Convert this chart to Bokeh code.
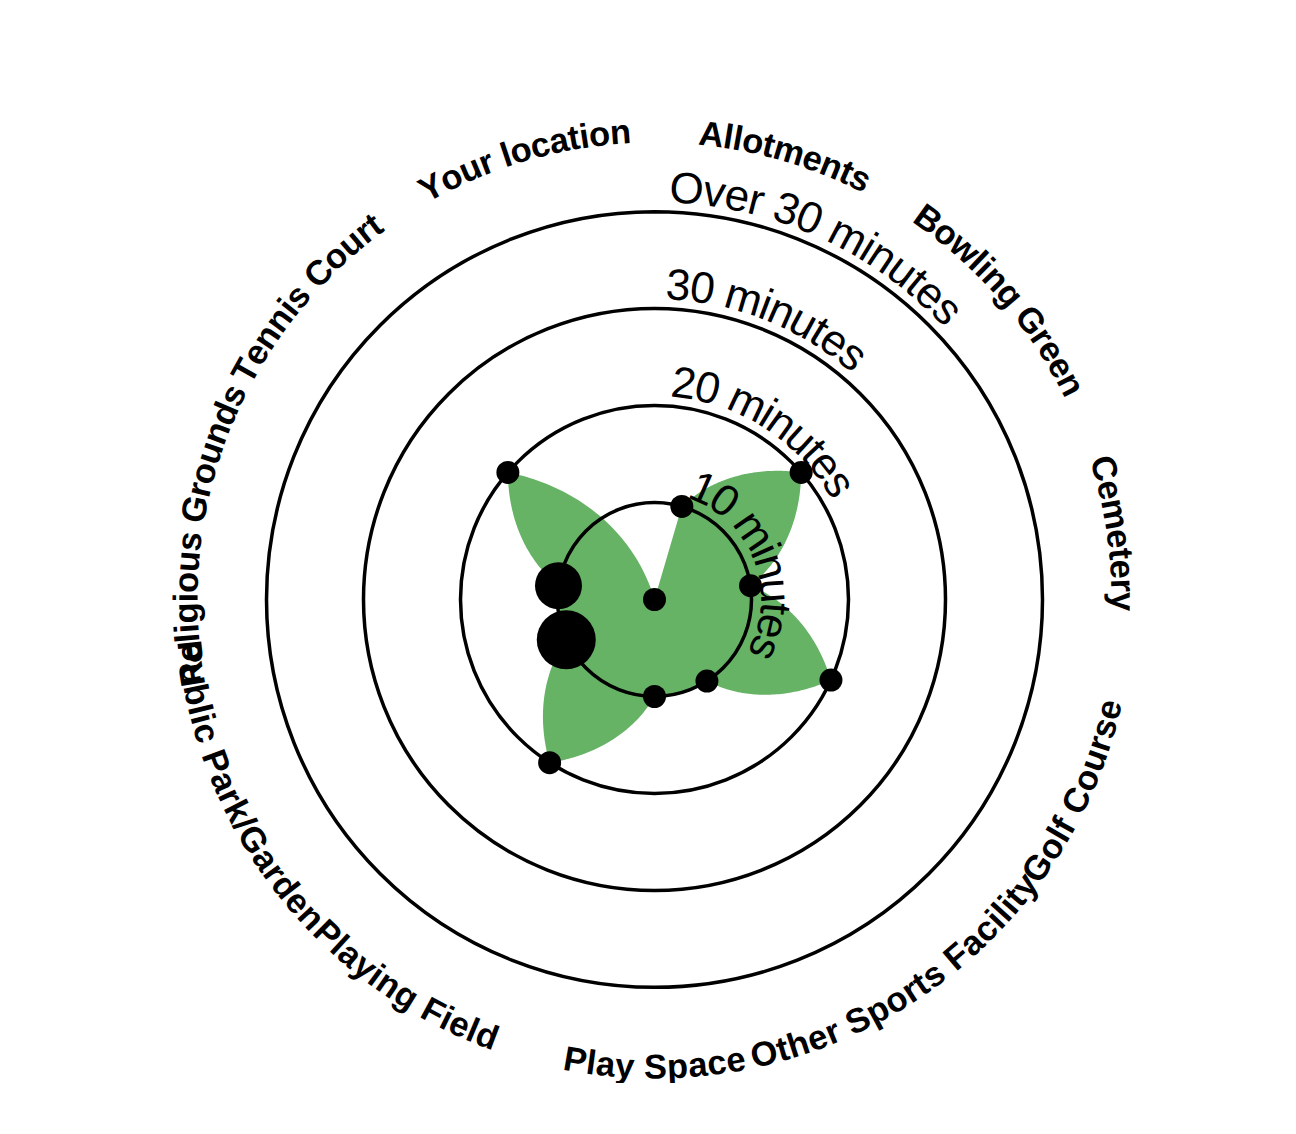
import math
import numpy as np
from bokeh.plotting import figure
from bokeh.models import Range1d, ColumnDataSource
from bokeh.embed import file_html
from bokeh.resources import INLINE
from bokeh.core.properties import value

# ---------------- data ----------------
categories = ["Allotments", "Bowling Green", "Cemetery", "Golf Course",
              "Other Sports Facility", "Play Space", "Playing Field",
              "Public Park/Garden", "Religious Grounds", "Tennis Court",
              "Your location"]
minutes = [10, 20, 10, 20, 10, 10, 20, 10, 10, 20, 0]
counts = [1, 1, 1, 1, 1, 1, 1, 4, 3, 1, 1]
ring_values = [10, 20, 30, 40]
ring_labels = ["10 minutes", "20 minutes", "30 minutes", "Over 30 minutes"]

# ---------------- layout / style ----------------
W, H = 1296, 1083
CX, CY = 654, 599          # centre in screen px
U = 9.7                    # px per minute (radial scale)
FONT = "Liberation Sans"
GREEN = "#67b366"

# Arial-compatible advance widths (1/1000 em)
REG = {'O': 778, 'v': 500, 'e': 556, 'r': 333, ' ': 278, '0': 556, '1': 556,
       '2': 556, '3': 556, 'm': 833, 'i': 222, 'n': 556, 'u': 556, 't': 278,
       's': 500}
BOLD = {'A': 722, 'l': 278, 'o': 611, 't': 333, 'm': 889, 'e': 556, 'n': 611,
        's': 556, 'B': 722, 'w': 778, 'i': 278, 'g': 611, ' ': 278, 'G': 778,
        'r': 389, 'C': 722, 'y': 556, 'f': 333, 'u': 611, 'c': 556, 'O': 778,
        'h': 611, 'S': 667, 'p': 611, 'F': 611, 'a': 556, 'P': 667, 'd': 611,
        'b': 611, 'k': 556, '/': 278, 'R': 722, 'T': 611, 'Y': 667}

p = figure(width=W, height=H, output_backend="svg", toolbar_location=None,
           x_range=Range1d(-CX / U, (W - CX) / U),
           y_range=Range1d(-(H - CY) / U, CY / U),
           min_border=0)
p.axis.visible = False
p.grid.visible = False
p.outline_line_color = None
p.background_fill_color = "white"
p.border_fill_color = "white"

n = len(categories)
ang = [(i + 0.5) * 2 * math.pi / n for i in range(n)]   # clockwise from north

# ---------------- green area (polar-interpolated segments) ----------------
ax, ay = [], []
for i in range(n - 1):
    t = np.linspace(0, 1, 60)
    a = ang[i] + t * (ang[i + 1] - ang[i])
    r = minutes[i] + t * (minutes[i + 1] - minutes[i])
    ax.extend(list(r * np.sin(a)))
    ay.extend(list(r * np.cos(a)))
p.patch(ax, ay, fill_color=GREEN, line_color=None)

# ---------------- rings ----------------
p.circle(x=[0] * len(ring_values), y=[0] * len(ring_values), radius=ring_values,
         fill_color=None, line_color="black", line_width=3.5)

# ---------------- dots ----------------
px = [m * math.sin(a) for m, a in zip(minutes, ang)]
py = [m * math.cos(a) for m, a in zip(minutes, ang)]
sizes = [23 + (c - 1) * 12 for c in counts]
p.scatter(x=px, y=py, size=sizes, fill_color="black", line_color=None)


# ---------------- curved text ----------------
def arc_text(text, table, size, spacing, R, theta_c=None, theta_s=None, flipped=False):
    adv = [table.get(ch, 556) * size / 1000 for ch in text]
    total = sum(adv) + spacing * (len(text) - 1)
    if theta_s is None:
        theta_s = theta_c + total / R / 2 if flipped else theta_c - total / R / 2
    xs, ys, ts, rots = [], [], [], []
    s = 0
    for ch, w in zip(text, adv):
        sc = s + w / 2
        s += w + spacing
        if ch == ' ':
            continue
        if flipped:
            th = theta_s - sc / R
            rot = math.pi - th
        else:
            th = theta_s + sc / R
            rot = -th
        xs.append(R * math.sin(th) / U)
        ys.append(R * math.cos(th) / U)
        ts.append(ch)
        rots.append(rot)
    return xs, ys, ts, rots


def draw(xs, ys, ts, rots, size, style):
    src = ColumnDataSource(dict(x=xs, y=ys, text=ts, angle=rots))
    p.text(x="x", y="y", text="text", angle="angle", source=src,
           text_font=value(FONT), text_font_size=f"{size}px",
           text_font_style=style, text_align="center",
           text_baseline="middle", text_color="black")


# category labels (R = radius of the text's middle line, px)
CAT_SIZE, CAT_SP = 34.5, 0.0
for lab, a in zip(categories, ang):
    deg = math.degrees(a)
    flipped = 90 < deg < 270
    R = 467 if flipped else 469
    draw(*arc_text(lab, BOLD, CAT_SIZE, CAT_SP, R, theta_c=a, flipped=flipped),
         CAT_SIZE, "bold")

# ring labels
RING_SIZE, RING_SP = 44, 0.0
ring_start_deg = [18, 4.5, 2.1, 2.1]
for v, lab, sd in zip(ring_values, ring_labels, ring_start_deg):
    R = v * U + 25
    draw(*arc_text(lab, REG, RING_SIZE, RING_SP, R, theta_s=math.radians(sd)),
         RING_SIZE, "normal")

open("out.html", "w").write(file_html(p, INLINE))
